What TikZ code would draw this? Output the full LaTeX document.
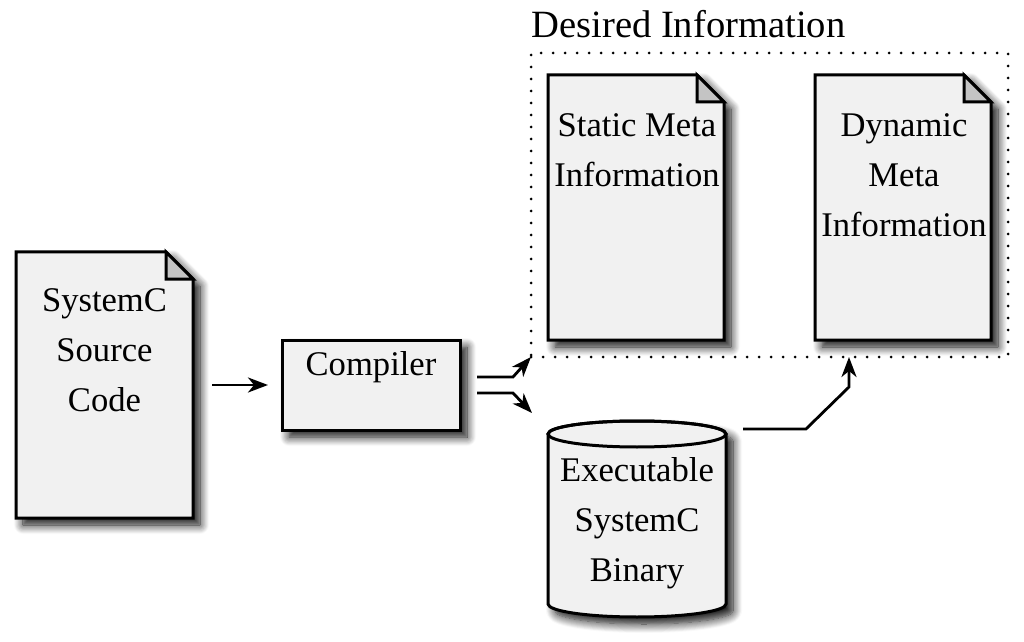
\documentclass[tikz,border=0pt]{standalone}
\usepackage{fontspec}
\setmainfont{Liberation Serif}
\usetikzlibrary{shadows.blur,arrows.meta,backgrounds}
\definecolor{paper}{HTML}{F1F1F1}
\definecolor{foldc}{HTML}{C4C4C4}
\tikzset{
  body/.style={rectangle,inner sep=0pt,outer sep=0pt},
  shapefill/.style={fill=paper,draw=black,line width=1.5pt,line join=miter,
    blur shadow={shadow xshift=3.5pt,shadow yshift=-3.5pt,shadow blur radius=4.5pt,shadow blur steps=10,shadow opacity=95}},
  foldfill/.style={fill=foldc,draw=black,line width=1.5pt,line join=miter},
  txt/.style={anchor=north,inner sep=0pt,align=center,font=\fontsize{17.3}{25}\selectfont},
  conn/.style={line width=1.4pt,-{Stealth[length=10pt,width=7.5pt,inset=3pt]}},
  dotbox/.style={draw=black,line width=1.5pt,line cap=round,dash pattern=on 0pt off 6pt}
}
\newcommand\docdraw[1]{%
  \path[shapefill] (#1.north west) -- ([xshift=-13.5pt]#1.north east) -- ([yshift=-13.5pt]#1.north east) -- (#1.south east) -- (#1.south west) -- cycle;
  \path[foldfill] ([xshift=-13.5pt]#1.north east) -- ([xshift=-13.5pt,yshift=-13.5pt]#1.north east) -- ([yshift=-13.5pt]#1.north east) -- cycle;}
\begin{document}
\begin{tikzpicture}[x=0.5pt,y=-0.5pt]
\useasboundingbox (0,0) rectangle (1024,642);
% bodies
\node[body,minimum width=88.5pt,minimum height=133pt] (src) at (104.5,385) {};
\node[body,minimum width=89pt,minimum height=45pt] (comp) at (371,385) {};
\node[body,minimum width=88pt,minimum height=132.5pt] (stat) at (636,207.5) {};
\node[body,minimum width=88pt,minimum height=132.5pt] (dyn) at (903,207.5) {};
\node[body,minimum width=89pt,minimum height=98pt] (cyl) at (637,519) {};
\node[body,dotbox,minimum width=238.5pt,minimum height=152pt] (desired) at (769.5,205) {};
\begin{scope}[on background layer]
  \docdraw{src}
  \docdraw{stat}
  \docdraw{dyn}
  \path[shapefill] (comp.north west) rectangle (comp.south east);
  \path[shapefill] (548,434) -- (548,604) arc[start angle=180,end angle=0,x radius=89,y radius=13]
     -- (726,434) arc[start angle=0,end angle=-180,x radius=89,y radius=13] -- cycle;
  \draw[line width=1.5pt] (637,434) ellipse[x radius=89,y radius=13];
\end{scope}
% texts
\node[anchor=base west,inner sep=0pt,font=\fontsize{19.3}{24}\selectfont] (title) at (531,38) {Desired Information};
\node[txt] (srctxt) at (104.5,288) {SystemC\\Source\\Code};
\node[txt] (comptxt) at (371,351) {Compiler};
\node[txt] (stattxt) at (637,113) {Static Meta\\Information};
\node[txt] (dyntxt) at (904,113) {Dynamic\\Meta\\Information};
\node[txt] (cyltxt) at (637,457) {Executable\\SystemC\\Binary};
% connectors
\coordinate (binin) at (532,413);
\coordinate (dynin) at (849,357);
\draw[conn] ([xshift=9.5pt]src.east) -- ([xshift=-7pt]comp.west);
\draw[conn] ([xshift=8.5pt,yshift=4pt]comp.east) -- ++(18pt,0) -- (desired.south west);
\draw[conn] ([xshift=8.5pt,yshift=-4pt]comp.east) -- ++(18pt,0) -- (binin);
\draw[conn] ([xshift=8.5pt,yshift=-4pt]cyl.north east) -- ++(31.5pt,0) -- ++(21.5pt,21pt) -- (dynin);
\end{tikzpicture}
\end{document}
